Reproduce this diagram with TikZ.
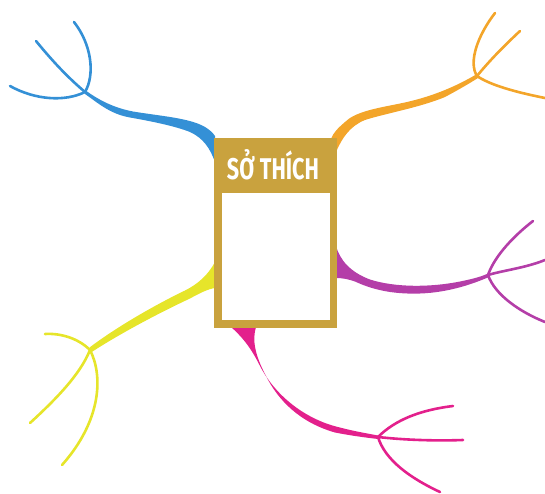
\documentclass[tikz,border=0pt]{standalone}
\usepackage{fontspec}
\newfontfamily\titlefont{Fira Sans}
\definecolor{cblue}{HTML}{3490D6}
\definecolor{corange}{HTML}{F3A52A}
\definecolor{cpurple}{HTML}{B43EA8}
\definecolor{cyellow}{HTML}{E6E52A}
\definecolor{cpink}{HTML}{E3208C}
\definecolor{cgold}{HTML}{C9A23E}
\tikzset{twig/.style={line width=2.6pt, line cap=round}}
\begin{document}
\begin{tikzpicture}[x=1pt,y=-1pt]
\useasboundingbox (0,0) rectangle (545,493);
% blue
\fill[cblue] (85,90) .. controls (100,101) and (115,108) .. (133,111.5) .. controls (160,116) and (190,118) .. (205,127) .. controls (210,130) and (213,133) .. (215,136) -- (215,162) .. controls (210,148) and (203,138) .. (190,132) .. controls (175,126) and (150,121) .. (130,117.5) .. controls (110,114) and (98,103) .. (85,94) -- cycle;
\coordinate (bB) at (85,92);
\draw[twig,cblue] (bB) .. controls (65,102) and (35,100) .. (10,86);
\draw[twig,cblue] (bB) .. controls (65,75) and (50,58) .. (36,41);
\draw[twig,cblue] (bB) .. controls (95,75) and (92,45) .. (74,22);
% orange
\fill[corange] (477,74) .. controls (455,87) and (430,97.5) .. (400,103.5) .. controls (375,108.5) and (355,112) .. (345,122) .. controls (338,128) and (333,133) .. (331,139) -- (336,139) -- (336,152) .. controls (342,138) and (350,126) .. (365,120) .. controls (385,113.5) and (420,107.5) .. (445,97) .. controls (460,89) and (470,83) .. (478,78) -- cycle;
\coordinate (bO) at (477,76);
\draw[twig,corange] (bO) .. controls (468,62) and (478,35) .. (495,13);
\draw[twig,corange] (bO) .. controls (490,60) and (505,45) .. (520,31);
\draw[twig,corange] (bO) .. controls (490,85) and (515,92) .. (545,98);
% purple
\fill[cpurple] (336,246) .. controls (340,260) and (350,272) .. (370,279.5) .. controls (395,287.5) and (430,287.5) .. (460,281.5) .. controls (475,278.5) and (483,276) .. (489,273) -- (489,277) .. controls (475,283) and (450,292.5) .. (420,293.5) .. controls (390,294.5) and (370,288.5) .. (355,281.5) .. controls (348,279) and (342,278) .. (336,278) -- cycle;
\coordinate (bP) at (488,275);
\draw[twig,cpurple] (bP) .. controls (495,255) and (515,235) .. (533,221);
\draw[twig,cpurple] (bP) .. controls (505,270) and (525,268) .. (545,260);
\draw[twig,cpurple] (bP) .. controls (495,295) and (520,312) .. (545,322);
% yellow
\fill[cyellow] (215,262) .. controls (208,275) and (198,284) .. (185,290.5) .. controls (160,302.5) and (120,324.5) .. (89.5,347.5) -- (91,352.5) .. controls (120,333.5) and (160,312.5) .. (190,298.5) .. controls (200,293) and (208,289) .. (215,288) -- cycle;
\coordinate (bY) at (90,350);
\draw[twig,cyellow] (bY) .. controls (78,338) and (60,333) .. (45,334);
\draw[twig,cyellow] (bY) .. controls (80,375) and (55,400) .. (30,423);
\draw[twig,cyellow] (bY) .. controls (103,375) and (102,420) .. (62,465);
% pink
\fill[cpink] (231,327) .. controls (240,335) and (249.5,345) .. (259.5,365) .. controls (274.5,395) and (305,419.5) .. (340,427.5) .. controls (355,431.5) and (368,433.5) .. (378,435.5) -- (378,439) .. controls (365,437.5) and (350,435.5) .. (335,432.5) .. controls (300,422.5) and (278,400.5) .. (265.5,375) .. controls (255,355) and (252,340) .. (256,327) -- cycle;
\coordinate (bK) at (378,437);
\draw[twig,cpink] (bK) .. controls (395,420) and (420,410) .. (453,406);
\draw[twig,cpink] (bK) .. controls (405,440) and (435,441) .. (463,440);
\draw[twig,cpink] (bK) .. controls (385,460) and (410,478) .. (440,492);
% box
\fill[cgold] (214,138) rectangle (337,328);
\fill[white] (222,193) rectangle (330,320);
\node[anchor=base, text=white, inner sep=0pt] (title) at (273,179) {\resizebox{92pt}{30pt}{\titlefont\bfseries SỞ THÍCH}};
\end{tikzpicture}
\end{document}
